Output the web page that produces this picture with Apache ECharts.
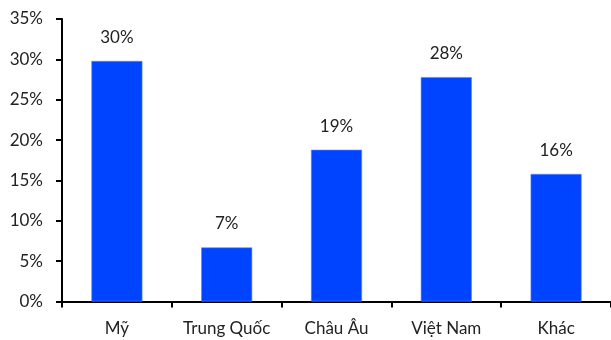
<!DOCTYPE html>
<html>
<head>
<meta charset="utf-8">
<script src="https://cdn.jsdelivr.net/npm/echarts@6/dist/echarts.min.js"></script>
<style>
  html, body { margin: 0; padding: 0; background: #fff; }
  #chart { width: 611px; height: 340px; }
</style>
</head>
<body>
<div id="chart"></div>
<script>
// Market share by destination (percent)
const categories = ['Mỹ', 'Trung Quốc', 'Châu Âu', 'Việt Nam', 'Khác'];
const shares = [29.8, 6.7, 18.8, 27.8, 15.8];
const yTicks = { min: 0, max: 35, step: 5 };

const chart = echarts.init(document.getElementById('chart'));
const font = 'Lato, "Noto Sans", sans-serif';

chart.setOption({
  animation: false,
  grid: { left: 62, right: 0, top: 19, bottom: 38.5, containLabel: false },
  xAxis: {
    type: 'category',
    data: categories,
    boundaryGap: true,
    axisLine: { lineStyle: { color: '#000', width: 2 } },
    axisTick: { show: true, length: 6, lineStyle: { color: '#000', width: 2 } },
    axisLabel: { color: '#222', fontSize: 17, fontFamily: font, margin: 19,
      interval: 0, hideOverlap: false }
  },
  yAxis: {
    type: 'value',
    min: yTicks.min,
    max: yTicks.max,
    interval: yTicks.step,
    splitLine: { show: false },
    axisLine: { show: true, lineStyle: { color: '#000', width: 2 } },
    axisTick: { show: true, length: 6, lineStyle: { color: '#000', width: 2 } },
    axisLabel: { color: '#222', fontSize: 17, fontFamily: font, margin: 19,
      formatter: v => v + '%' }
  },
  series: [{
    type: 'bar',
    data: shares,
    barWidth: 51,
    itemStyle: { color: '#0044ff', borderColor: '#5c86ff', borderWidth: 0.6 },
    label: {
      show: true,
      position: 'top',
      distance: 15,
      color: '#222',
      fontSize: 17,
      fontFamily: font,
      formatter: p => Math.round(p.value) + '%'
    }
  }]
});
</script>
</body>
</html>
